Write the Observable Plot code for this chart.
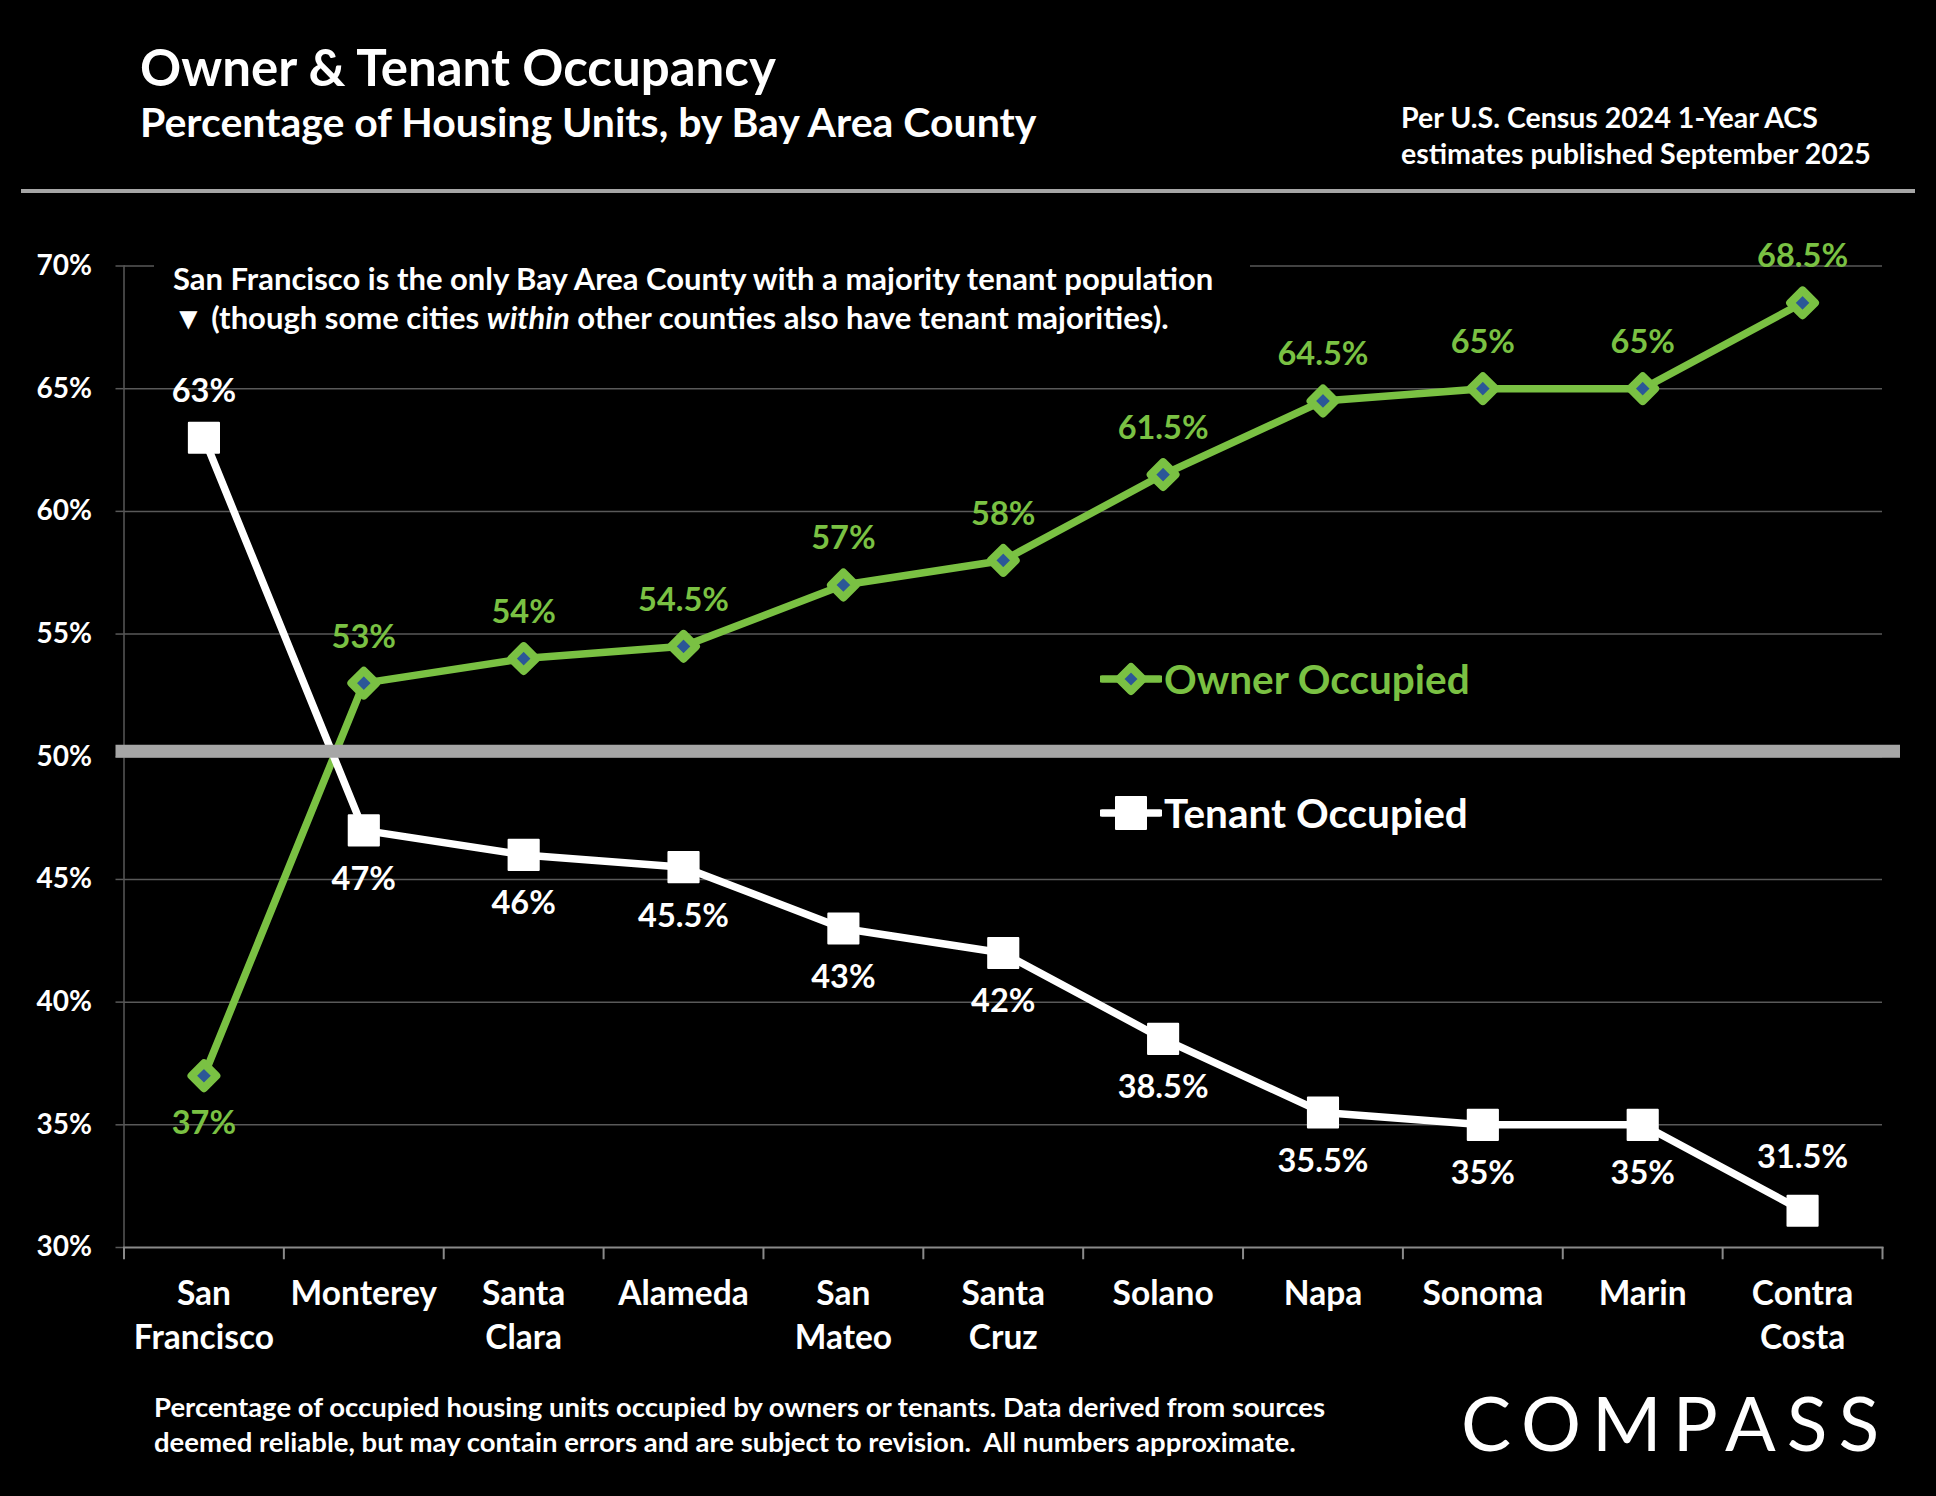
<!DOCTYPE html>
<html>
<head>
<meta charset="utf-8">
<script src="https://cdn.jsdelivr.net/npm/d3@7"></script>
<script src="https://cdn.jsdelivr.net/npm/@observablehq/plot@0.6"></script>
<style>
  html, body { margin: 0; padding: 0; background: #000; }
  #wrap { position: relative; width: 1936px; height: 1496px; background: #000; overflow: hidden;
          font-family: Lato, "Open Sans", sans-serif; font-weight: 700; color: #fff; }
  .abs { position: absolute; white-space: nowrap; }
  #chart { position: absolute; left: 0; top: 0; }
  #title { left: 140px; top: 36px; font-size: 51px; line-height: 1.2; }
  #subtitle { left: 140px; top: 97px; font-size: 41px; line-height: 1.2; }
  #note { left: 1401px; top: 99px; font-size: 28.5px; line-height: 36px; }
  #rule { left: 21px; top: 189px; width: 1894px; height: 4px; background: #a6a6a6; }
  #annot { left: 154px; top: 252px; width: 1096px; height: 92px; background: #000;
           padding: 6.5px 0 0 19px; box-sizing: border-box; font-size: 31px; line-height: 39px; }
  #footer { left: 154px; top: 1389px; font-size: 27.5px; line-height: 35px; }
  #logo { left: 1461px; top: 1377px; font-size: 75px; line-height: 1.2; font-weight: 400; letter-spacing: 11px; }
  .leg { display: flex; align-items: center; font-size: 40.5px; line-height: 1.2; }
  .leg svg { display: block; margin-right: 2px; }
</style>
</head>
<body>
<div id="wrap">
  <div id="chart"></div>
  <div class="abs" id="title">Owner &amp; Tenant Occupancy</div>
  <div class="abs" id="subtitle">Percentage of Housing Units, by Bay Area County</div>
  <div class="abs" id="note">Per U.S. Census 2024 1-Year ACS<br>estimates published September 2025</div>
  <div class="abs" id="rule"></div>
  <div class="abs" id="annot">San Francisco is the only Bay Area County with a majority tenant population<br>▼ (though some cities <i>within</i> other counties also have tenant majorities).</div>
  <div class="abs leg" id="legOwner"></div>
  <div class="abs leg" id="legTenant"></div>
  <div class="abs" id="footer">Percentage of occupied housing units occupied by owners or tenants. Data derived from sources<br>deemed reliable, but may contain errors and are subject to revision.&nbsp; All numbers approximate.</div>
  <div class="abs" id="logo">COMPASS</div>
</div>
<script>
// ---- data ----
const counties = ["San Francisco", "Monterey", "Santa Clara", "Alameda", "San Mateo", "Santa Cruz",
                  "Solano", "Napa", "Sonoma", "Marin", "Contra Costa"];
const countyLabels = ["San\nFrancisco", "Monterey", "Santa\nClara", "Alameda", "San\nMateo", "Santa\nCruz",
                      "Solano", "Napa", "Sonoma", "Marin", "Contra\nCosta"];
const ownerOccupied = [37, 53, 54, 54.5, 57, 58, 61.5, 64.5, 65, 65, 68.5];
const tenantOccupied = [63, 47, 46, 45.5, 43, 42, 38.5, 35.5, 35, 35, 31.5];
const yTicks = [30, 35, 40, 45, 50, 55, 60, 65, 70];
const seriesNames = ["Owner Occupied", "Tenant Occupied"];

// ---- styling ----
const GREEN = "#7ac143";
const BLUE = "#2b5797";
const GRID = "#595959";
const AXIS = "#8a8a8a";

const rows = counties.map((c, i) => ({county: c, owner: ownerOccupied[i], tenant: tenantOccupied[i]}));
const fmt = v => v + "%";

const W = 1936, H = 1496;
const mL = 123.5, mR = 54, mT = 265.5, mB = 249;
const step = (W - mL - mR) / counties.length;

const labelFont = 32.5;

const chart = Plot.plot({
  width: W, height: H,
  marginLeft: mL, marginRight: mR, marginTop: mT, marginBottom: mB,
  style: {background: "transparent", color: "#fff", fontFamily: "Lato, 'Open Sans', sans-serif", fontWeight: 700, overflow: "visible"},
  x: {type: "point", domain: counties, padding: 0.5, round: false, label: null},
  y: {domain: [30, 70], label: null},
  marks: [
    Plot.gridY({ticks: yTicks.filter(v => v > 30), stroke: GRID, strokeOpacity: 1, strokeWidth: 1.5}),
    Plot.axisY({ticks: yTicks, tickSize: 8, tickPadding: 24, tickFormat: fmt, fontSize: 28,
                stroke: GRID, strokeWidth: 1.5, fill: "#fff", label: null}),
    Plot.frame({anchor: "left", stroke: GRID, strokeWidth: 1.5}),
    Plot.frame({anchor: "bottom", stroke: AXIS, strokeWidth: 2}),
    Plot.ruleX(counties, {x: d => d, dx: -step / 2, y1: 30, y2: 29.5, stroke: AXIS, strokeWidth: 2}),
    Plot.ruleX([counties[counties.length - 1]], {x: d => d, dx: step / 2, y1: 30, y2: 29.5, stroke: AXIS, strokeWidth: 2}),
    Plot.axisX({tickSize: 0, tickPadding: 26, fontSize: 33.5, lineHeight: 44 / 33.5, fill: "#fff",
                tickFormat: d => countyLabels[counties.indexOf(d)], label: null}),
    // owner series
    Plot.line(rows, {x: "county", y: "owner", stroke: GREEN, strokeWidth: 7.5}),
    Plot.dot(rows, {x: "county", y: "owner", symbol: "diamond2", r: 11.2, fill: BLUE, stroke: GREEN,
                    strokeWidth: 8, strokeLinejoin: "round"}),
    // tenant series
    Plot.line(rows, {x: "county", y: "tenant", stroke: "#fff", strokeWidth: 7.5}),
    Plot.dot(rows, {x: "county", y: "tenant", symbol: "square", r: 17, fill: "#fff", stroke: "#fff",
                    strokeWidth: 2, strokeLinejoin: "round"}),
    // 50% divider
    Plot.ruleY([50], {stroke: "#a6a6a6", strokeWidth: 13, insetLeft: -8, insetRight: -18, dy: -5.5}),
    // value labels
    Plot.text(rows.filter(d => d.owner > d.tenant), {x: "county", y: "owner", text: d => fmt(d.owner),
              fill: GREEN, fontSize: labelFont, fontWeight: 700, dy: -46}),
    Plot.text(rows.filter(d => d.owner <= d.tenant), {x: "county", y: "owner", text: d => fmt(d.owner),
              fill: GREEN, fontSize: labelFont, fontWeight: 700, dy: 48}),
    Plot.text(rows.filter(d => d.tenant > d.owner), {x: "county", y: "tenant", text: d => fmt(d.tenant),
              fill: "#fff", fontSize: labelFont, fontWeight: 700, dy: -46}),
    Plot.text(rows.filter(d => d.tenant < 33), {x: "county", y: "tenant", text: d => fmt(d.tenant),
              fill: "#fff", fontSize: labelFont, fontWeight: 700, dy: -53}),
    Plot.text(rows.filter(d => !(d.tenant > d.owner || d.tenant < 33)), {x: "county", y: "tenant", text: d => fmt(d.tenant),
              fill: "#fff", fontSize: labelFont, fontWeight: 700, dy: 49})
  ]
});
document.getElementById("chart").appendChild(chart);

// ---- legend (HTML) ----
function legendItem(id, name, color, symbol, left, top) {
  const el = document.getElementById(id);
  el.style.left = left + "px";
  el.style.top = top + "px";
  el.style.color = color;
  const ns = "http://www.w3.org/2000/svg";
  const svg = document.createElementNS(ns, "svg");
  svg.setAttribute("width", 62); svg.setAttribute("height", 40);
  const ln = document.createElementNS(ns, "line");
  ln.setAttribute("x1", 2); ln.setAttribute("x2", 60); ln.setAttribute("y1", 20); ln.setAttribute("y2", 20);
  ln.setAttribute("stroke", color); ln.setAttribute("stroke-width", 7.5); ln.setAttribute("stroke-linecap", "round");
  svg.appendChild(ln);
  const p = document.createElementNS(ns, "path");
  if (symbol === "diamond") {
    p.setAttribute("d", "M31,8 L43,20 L31,32 L19,20 Z");
    p.setAttribute("fill", BLUE); p.setAttribute("stroke", color); p.setAttribute("stroke-width", 8);
    p.setAttribute("stroke-linejoin", "round");
  } else {
    p.setAttribute("d", "M16,4 H46 V36 H16 Z");
    p.setAttribute("fill", color); p.setAttribute("stroke", color); p.setAttribute("stroke-width", 2);
    p.setAttribute("stroke-linejoin", "round");
  }
  svg.appendChild(p);
  el.appendChild(svg);
  const t = document.createElement("span");
  t.textContent = name;
  el.appendChild(t);
}
legendItem("legOwner", seriesNames[0], GREEN, "diamond", 1100, 655);
legendItem("legTenant", seriesNames[1], "#fff", "square", 1100, 789);
</script>
</body>
</html>
